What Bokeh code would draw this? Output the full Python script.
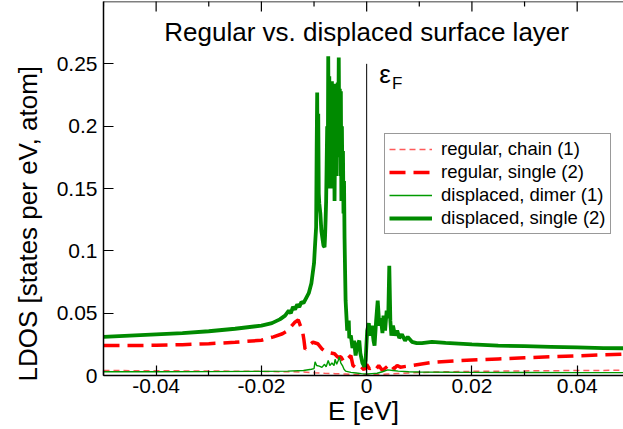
import math
from bokeh.plotting import figure
from bokeh.models import (Label, Legend, LegendItem, FixedTicker, Range1d, Span, Title)
from bokeh.embed import file_html
from bokeh.resources import INLINE

FONT = "Liberation Sans"

# ---------------- data ----------------
title_text = "Regular vs. displaced surface layer"
x_label = "E [eV]"
y_label = "LDOS [states per eV, atom]"

x_lo, x_hi = -0.05, 0.0488
y_lo, y_hi = 0.0, 0.3

x_ticks = [-0.04, -0.02, 0.0, 0.02, 0.04]
x_tick_labels = ["-0.04", "-0.02", "0", "0.02", "0.04"]
x_minor = [-0.05, -0.03, -0.01, 0.01, 0.03]
y_ticks = [0.0, 0.05, 0.10, 0.15, 0.20, 0.25]
y_tick_labels = ["0", "0.05", "0.1", "0.15", "0.2", "0.25"]

fermi_E = [0.0]
fermi_top = [0.25]

# regular, chain (1)
reg_chain_E = [-0.050, -0.040, -0.030, -0.020, -0.015, -0.012, -0.010, -0.008, -0.006,
               -0.004, -0.002, 0.000, 0.002, 0.004, 0.006, 0.008, 0.010, 0.015, 0.020,
               0.030, 0.040, 0.050]
reg_chain_v = [0.0040, 0.0038, 0.0036, 0.0033, 0.0030, 0.0028, 0.0022, 0.0018, 0.0015,
               0.0012, 0.0008, 0.0005, 0.0008, 0.0012, 0.0016, 0.0020, 0.0024, 0.0030, 0.0033,
               0.0037, 0.0040, 0.0042]

# regular, single (2)
reg_single_E = [-0.050, -0.045, -0.040, -0.035, -0.030, -0.025, -0.020, -0.0177, -0.0160,
                -0.0150, -0.0137, -0.0130, -0.0126, -0.0122, -0.0119, -0.0117, -0.0110,
                -0.0102, -0.0093, -0.0085, -0.0077, -0.0068, -0.0061, -0.0055, -0.0049,
                -0.0043, -0.0036, -0.0030, -0.0026, -0.0017, -0.0011, -0.0005, 0.0000,
                0.0005, 0.0011, 0.0017, 0.0023, 0.0030, 0.0039, 0.0045, 0.0052, 0.0058,
                0.0064, 0.0086, 0.0124, 0.015, 0.020, 0.025, 0.030, 0.035, 0.040, 0.045, 0.050]
reg_single_v = [0.0240, 0.0240, 0.0242, 0.0247, 0.0255, 0.0266, 0.0283, 0.0310, 0.0335,
                0.0360, 0.0425, 0.0446, 0.0400, 0.0360, 0.0280, 0.0210, 0.0240,
                0.0267, 0.0255, 0.0214, 0.0187, 0.0180, 0.0174, 0.0147, 0.0150,
                0.0107, 0.0134, 0.0160, 0.0080, 0.0054, 0.0072, 0.0046, 0.0088,
                0.0054, 0.0067, 0.0046, 0.0080, 0.0040, 0.0072, 0.0094, 0.0054, 0.0080,
                0.0067, 0.0080, 0.0105, 0.0113, 0.0124, 0.0133, 0.0142, 0.0150, 0.0158, 0.0166, 0.0173]

# displaced, dimer (1)
disp_dimer_E = [-0.050, -0.040, -0.030, -0.020, -0.015, -0.012, -0.0105, -0.0100, -0.0098,
                -0.0095, -0.0090, -0.0085, -0.0080, -0.0077, -0.0073, -0.0070, -0.0066,
                -0.0062, -0.0060, -0.0057, -0.0054, -0.0052, -0.0049, -0.0046, -0.0043,
                -0.0040, -0.0030, -0.0020, -0.0010, 0.0000, 0.0010, 0.0020, 0.0030, 0.0040,
                0.0050, 0.0060, 0.0080, 0.0100, 0.0200, 0.0300, 0.0400, 0.0500]
disp_dimer_v = [0.0030, 0.0030, 0.0031, 0.0033, 0.0035, 0.0040, 0.0050, 0.0055, 0.0110,
                0.0080, 0.0075, 0.0065, 0.0090, 0.0070, 0.0120, 0.0080, 0.0100,
                0.0080, 0.0130, 0.0090, 0.0120, 0.0150, 0.0100, 0.0080, 0.0050,
                0.0035, 0.0025, 0.0020, 0.0015, 0.0012, 0.0015, 0.0018, 0.0030, 0.0045,
                0.0040, 0.0035, 0.0030, 0.0028, 0.0025, 0.0024, 0.0023, 0.0023]

# displaced, single (2)
disp_single_E = [-0.050, -0.045, -0.040, -0.035, -0.030, -0.025, -0.020, -0.018, -0.0165,
                 -0.0155, -0.0148, -0.0144, -0.0140, -0.0136, -0.0132, -0.0128, -0.0124,
                 -0.0120, -0.0115, -0.0110, -0.0105, -0.0100, -0.0098, -0.0096, -0.0095,
                 -0.0094, -0.0093, -0.0092, -0.0091, -0.0090, -0.0088, -0.0086, -0.0084,
                 -0.0082, -0.0080, -0.0079, -0.0078, -0.0077, -0.0076, -0.0075, -0.0074,
                 -0.0073, -0.0072, -0.0071, -0.0070, -0.0069, -0.0068, -0.0067, -0.0066,
                 -0.0065, -0.0064, -0.0063, -0.0062, -0.0061, -0.0060, -0.0059, -0.0058,
                 -0.0057, -0.0056, -0.0055, -0.0054, -0.0053, -0.0052, -0.0051, -0.0050,
                 -0.0049, -0.0048, -0.0047, -0.0046, -0.0045, -0.0044, -0.0043, -0.0042,
                 -0.0041, -0.0040, -0.0037, -0.0034, -0.0033, -0.0030, -0.0027, -0.0024,
                 -0.0021, -0.0018, -0.0014, -0.0012, -0.0008, -0.0004, -0.0002, 0.0001,
                 0.0004, 0.0007, 0.0010, 0.0013, 0.0015, 0.0018, 0.0021, 0.0024, 0.0027,
                 0.0030, 0.0032, 0.0035, 0.0038, 0.0041, 0.0043, 0.0045, 0.0047, 0.0050,
                 0.0054, 0.0058, 0.0062, 0.0067, 0.0073, 0.0078, 0.0086, 0.0095, 0.0105,
                 0.0124, 0.015, 0.020, 0.025, 0.030, 0.035, 0.040, 0.045, 0.050]
disp_single_v = [0.031, 0.032, 0.033, 0.034, 0.0355, 0.0375, 0.040, 0.042, 0.045,
                 0.048, 0.052, 0.050, 0.055, 0.053, 0.057, 0.055, 0.059,
                 0.058, 0.062, 0.066, 0.074, 0.090, 0.105, 0.119, 0.180,
                 0.227, 0.150, 0.210, 0.146, 0.138, 0.130, 0.116, 0.110,
                 0.104, 0.103, 0.112, 0.125, 0.140, 0.170, 0.200, 0.150,
                 0.256, 0.180, 0.240, 0.160, 0.215, 0.150, 0.205, 0.236,
                 0.170, 0.225, 0.150, 0.200, 0.140, 0.190, 0.234, 0.160,
                 0.222, 0.175, 0.235, 0.190, 0.255, 0.185, 0.230, 0.160,
                 0.228, 0.140, 0.200, 0.150, 0.180, 0.130, 0.156, 0.110,
                 0.084, 0.060, 0.036, 0.044, 0.030, 0.032, 0.022, 0.028,
                 0.016, 0.024, 0.028, 0.018, 0.010, 0.007, 0.012, 0.036,
                 0.042, 0.032, 0.040, 0.028, 0.024, 0.044, 0.060, 0.040, 0.046,
                 0.034, 0.048, 0.036, 0.052, 0.046, 0.088, 0.044, 0.032, 0.040,
                 0.032, 0.036, 0.030, 0.033, 0.028, 0.031, 0.027, 0.026, 0.026,
                 0.027, 0.0262, 0.025, 0.024, 0.0235, 0.023, 0.0225, 0.022, 0.0218]

# ---------------- figure ----------------
p = figure(width=623, height=429,
           x_range=Range1d(x_lo, x_hi), y_range=Range1d(y_lo, y_hi),
           output_backend="svg", toolbar_location=None,
           min_border_left=98, min_border_right=0, min_border_top=1, min_border_bottom=54,
           x_axis_label=x_label)
p.outline_line_color = None
p.grid.visible = False
p.background_fill_color = "white"
p.border_fill_color = "white"

p.xaxis.ticker = FixedTicker(ticks=x_ticks, minor_ticks=x_minor)
p.xaxis.major_label_overrides = {t: s for t, s in zip(x_ticks, x_tick_labels)}
p.yaxis.ticker = FixedTicker(ticks=y_ticks, minor_ticks=[])
p.yaxis.major_label_overrides = {t: s for t, s in zip(y_ticks, y_tick_labels)}

for ax in list(p.xaxis) + list(p.yaxis):
    ax.major_tick_in = 10
    ax.major_tick_out = 0
    ax.minor_tick_in = 5
    ax.minor_tick_out = 0
    ax.axis_line_color = "black"
    ax.axis_line_width = 1.5
    ax.major_tick_line_color = "black"
    ax.minor_tick_line_color = "black"
    ax.major_tick_line_width = 1.2
    ax.minor_tick_line_width = 1.2
    ax.major_label_text_font = FONT
    ax.major_label_text_font_size = "21px"
    ax.major_label_text_color = "black"

p.xaxis.major_label_standoff = 3
p.xaxis.axis_label_standoff = 0
p.xaxis.axis_label_text_font = FONT
p.xaxis.axis_label_text_font_size = "26px"
p.xaxis.axis_label_text_font_style = "normal"
p.xaxis.axis_label_text_color = "black"
p.yaxis.major_label_standoff = 6

# y-axis label drawn as a side title, anchored at its lower end
p.add_layout(Title(text=y_label, align="left", offset=-6, standoff=21,
                   text_font=FONT, text_font_size="26px", text_font_style="normal",
                   text_color="black"), "left")

# mirrored ticks on the top edge
p.add_layout(Span(location=y_hi, dimension="width", line_color="black", line_width=1.5))
p.scatter(x=x_ticks, y=[y_hi] * len(x_ticks), marker="dash", size=20, angle=math.pi / 2,
          line_color="black", line_width=1.2)
p.scatter(x=x_minor, y=[y_hi] * len(x_minor), marker="dash", size=10, angle=math.pi / 2,
          line_color="black", line_width=1.2)

# ---------------- curves ----------------
RED = "#ff0000"
GREEN = "#008a00"

r_chain = p.line(reg_chain_E, reg_chain_v, line_color="#ff5a5a", line_width=1.5,
                 line_dash="6 4")
r_single = p.line(reg_single_E, reg_single_v, line_color=RED, line_width=3.5,
                  line_dash="16 8")
g_dimer = p.line(disp_dimer_E, disp_dimer_v, line_color="#009a00", line_width=1.4)
g_single = p.line(disp_single_E, disp_single_v, line_color=GREEN, line_width=3.8)

p.segment(x0=fermi_E, y0=[y_lo], x1=fermi_E, y1=fermi_top, line_color="black", line_width=1)

# ---------------- texts ----------------
p.add_layout(Label(x=0.0, y=0.2756, text=title_text, text_align="center",
                   text_baseline="alphabetic", text_font=FONT, text_font_size="26px",
                   text_color="black"))
p.add_layout(Label(x=0.0024, y=0.2420, text="\u03b5", text_baseline="alphabetic",
                   text_font=FONT, text_font_size="26px", text_color="black"))
p.add_layout(Label(x=0.0048, y=0.2340, text="F", text_baseline="alphabetic",
                   text_font=FONT, text_font_size="17px", text_color="black"))

legend = Legend(items=[
    LegendItem(label="regular, chain (1)", renderers=[r_chain]),
    LegendItem(label="regular, single (2)", renderers=[r_single]),
    LegendItem(label="displaced, dimer (1)", renderers=[g_dimer]),
    LegendItem(label="displaced, single (2)", renderers=[g_single]),
], location=(281, 141))
legend.label_text_font = FONT
legend.label_text_font_size = "18.5px"
legend.label_text_color = "black"
legend.glyph_width = 43
legend.glyph_height = 20
legend.label_height = 20
legend.label_standoff = 9
legend.spacing = 1
legend.padding = 4
legend.margin = 0
legend.border_line_color = "#333333"
legend.border_line_width = 1.5
legend.background_fill_color = "white"
legend.background_fill_alpha = 1.0
p.add_layout(legend)

open("out.html", "w").write(file_html(p, INLINE))
